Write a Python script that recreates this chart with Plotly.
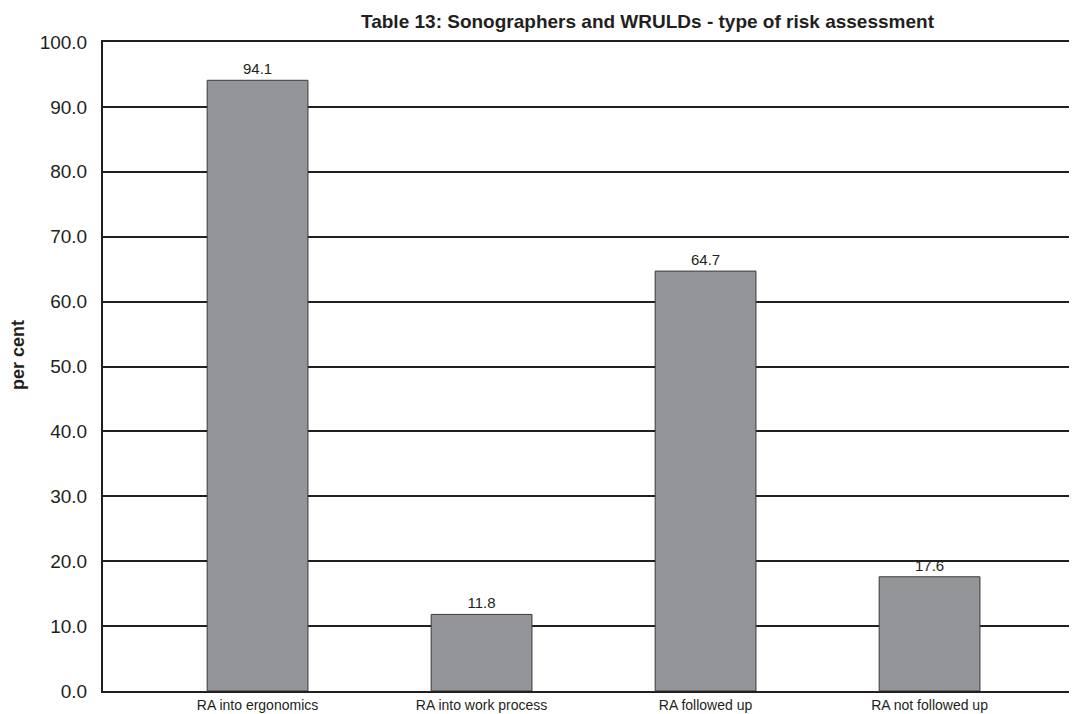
import plotly.graph_objects as go

categories = ["RA into ergonomics", "RA into work process", "RA followed up", "RA not followed up"]
values = [94.1, 11.8, 64.7, 17.6]
tick_vals = [0, 10, 20, 30, 40, 50, 60, 70, 80, 90, 100]
tick_text = ["%.1f" % v for v in tick_vals]

INK = "#231f20"
FONT = "Liberation Sans, Arial, sans-serif"

# plot area in screen pixels (page has 8px body margin)
PL, PT, PB, PR = 103, 42, 691, 1085
PW, PH = PR - PL, PB - PT

fig = go.Figure()
fig.add_trace(go.Bar(
    x=list(range(len(categories))), y=values,
    width=0.45,
    marker=dict(color="#939598", line=dict(color="#3a3a3a", width=1)),
    text=["%.1f" % v for v in values], textposition="outside",
    textfont=dict(family=FONT, size=15, color=INK),
    cliponaxis=False,
))

fig.update_layout(
    width=1077, height=714,
    margin=dict(l=PL - 8, r=0, t=PT - 8, b=714 + 8 - PB),
    paper_bgcolor="white", plot_bgcolor="white",
    showlegend=False,
    font=dict(family=FONT, color=INK),
    annotations=[
        dict(text="<b>Table 13: Sonographers and WRULDs - type of risk assessment</b>",
             xref="paper", yref="paper",
             x=(648 - PL) / PW, y=1 + (PT - 22) / PH,
             xanchor="center", yanchor="middle", showarrow=False,
             font=dict(size=19, color=INK)),
        dict(text="<b>per cent</b>", textangle=-90,
             xref="paper", yref="paper",
             x=(18 - PL) / PW, y=(PB - 355) / PH,
             xanchor="center", yanchor="middle", showarrow=False,
             font=dict(size=18, color=INK)),
    ],
)

fig.update_xaxes(
    range=[-0.69, -0.69 + PW / 224],
    tickvals=list(range(len(categories))), ticktext=categories,
    tickfont=dict(size=14, color=INK),
    showgrid=False, zeroline=False,
    showline=True, linecolor=INK, linewidth=2, mirror=True,
    ticks="",
)
fig.update_yaxes(
    range=[0, 100], tickvals=tick_vals, ticktext=tick_text,
    tickfont=dict(size=19, color=INK),
    showgrid=True, gridcolor=INK, gridwidth=2,
    zeroline=False,
    showline=True, linecolor=INK, linewidth=2,
    ticks="inside", ticklen=25, tickcolor=INK, tickwidth=2,
    ticklabelstandoff=10,
)

fig.write_html("out.html")
